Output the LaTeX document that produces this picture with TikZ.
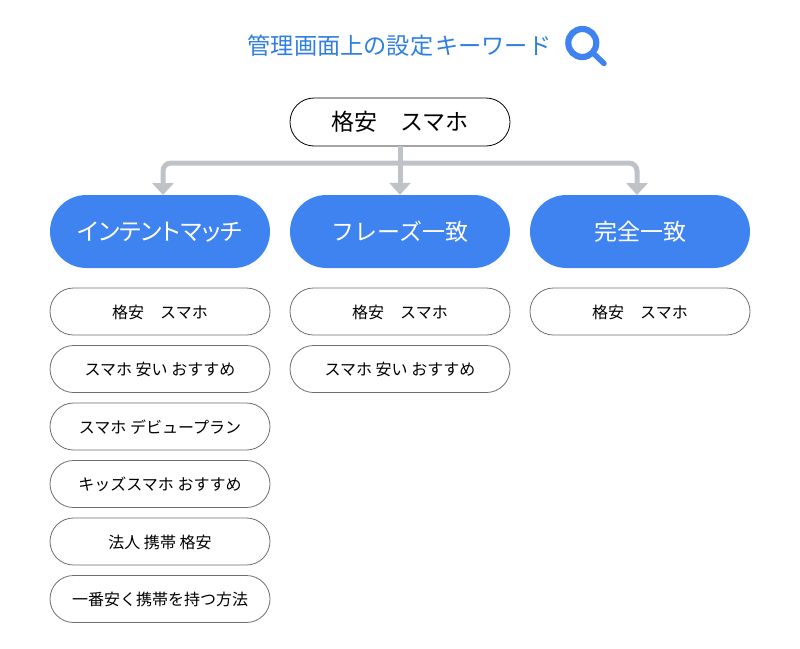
\documentclass[tikz,border=0pt]{standalone}
\usepackage{fontspec}
\setmainfont{Noto Sans CJK JP}
\usetikzlibrary{shapes.misc,arrows.meta}
\definecolor{kwblue}{HTML}{3F83F1}
\definecolor{ttlblue}{HTML}{2F7FE0}
\definecolor{conn}{HTML}{BFC3C7}
\definecolor{smallline}{HTML}{6E6E6E}
\tikzset{
  x=1pt,y=-1pt,
  pill/.style={rounded rectangle,rounded rectangle arc length=180,minimum width=220pt,inner sep=0pt,anchor=center},
  rootpill/.style={pill,draw=black,line width=0.8pt,fill=white,minimum height=48pt,font=\fontsize{23}{26}\selectfont,text=black,text height=20.4pt,text depth=2.8pt},
  headpill/.style={pill,fill=kwblue,minimum height=73pt,font=\fontsize{23}{26}\selectfont,text=white,text height=20.4pt,text depth=2.8pt},
  kwpill/.style={pill,draw=smallline,line width=0.8pt,fill=white,minimum height=47pt,font=\fontsize{16}{20}\selectfont,text=black,text height=15.8pt,text depth=1.9pt},
  connector/.style={draw=conn,line width=5pt,rounded corners=8pt,-{Triangle[width=21pt,length=12pt]}},
}
\begin{document}
\begin{tikzpicture}
\useasboundingbox (0,0) rectangle (800,648);
\node[font=\fontsize{23.2}{26}\selectfont,text=ttlblue,anchor=center,inner sep=0pt] (title) at (399.5,45.5) {管理画面上の設定\hspace{2pt}キーワード};
\node[circle,draw=kwblue,line width=6.2pt,minimum size=28pt,inner sep=0pt] (lens) at (582.3,43) {};
\coordinate (handle) at (604,63.5);
\draw[kwblue,line width=5.5pt,line cap=round] (lens.-43) -- (handle);

\node[rootpill] (root) at (400,122) {格安　スマホ};
\node[headpill] (h1) at (160,231.5) {\fontsize{23.8}{26}\selectfont\addfontfeature{RawFeature=+palt}インテントマッチ};
\node[headpill] (h2) at (400,231.5) {フレーズ一致};
\node[headpill] (h3) at (640,231.5) {完全一致};

\coordinate (bus) at (400,163);
\coordinate (t1) at (163,195);
\coordinate (t3) at (637,195);
\draw[connector] (root.south) -- (h2.north);
\draw[connector] (bus) -| (t1);
\draw[connector] (bus) -| (t3);

\node[kwpill] (a1) at (160,311.5) {格安　スマホ};
\node[kwpill] (a2) at (160,369) {スマホ 安い おすすめ};
\node[kwpill] (a3) at (160,426.5) {スマホ デビュープラン};
\node[kwpill] (a4) at (160,484) {キッズスマホ おすすめ};
\node[kwpill] (a5) at (160,541.5) {法人 携帯 格安};
\node[kwpill] (a6) at (160,599) {一番安く携帯を持つ方法};
\node[kwpill] (b1) at (400,311.5) {格安　スマホ};
\node[kwpill] (b2) at (400,369) {スマホ 安い おすすめ};
\node[kwpill] (c1) at (640,311.5) {格安　スマホ};
\end{tikzpicture}
\end{document}
